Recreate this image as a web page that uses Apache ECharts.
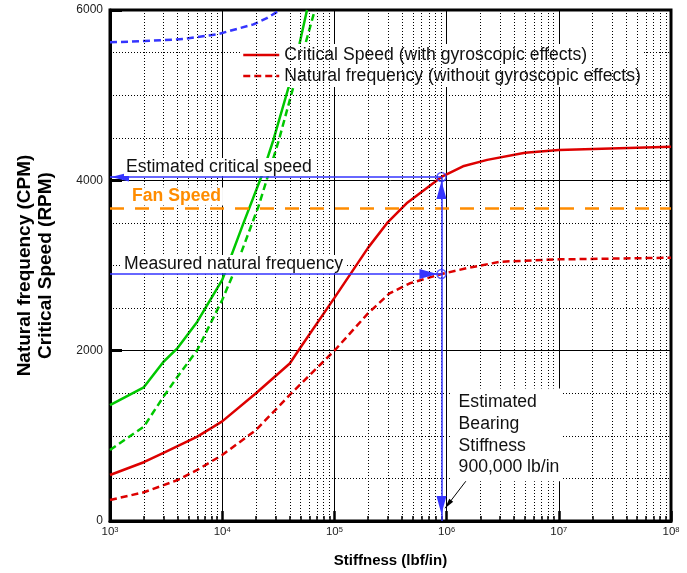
<!DOCTYPE html>
<html>
<head>
<meta charset="utf-8">
<title>Rotor critical speed map</title>
<script src="https://cdn.jsdelivr.net/npm/echarts@6.0.0/dist/echarts.min.js"></script>
<style>
  html, body { margin: 0; padding: 0; background: #ffffff; }
  #chart { width: 687px; height: 573px; }
</style>
</head>
<body>
<div id="chart"></div>
<script>
// Axis ranges
const stiffnessMin = 1e3;
const stiffnessMax = 1e8;
const speedMin = 0;
const speedMax = 6000;
const speedTickStep = 2000;

// First mode with gyroscopic effects: critical speed (RPM) vs bearing stiffness (lbf/in)
const critStiffness = [1e3, 2e3, 3e3, 6e3, 1e4, 2e4, 4e4, 5e4, 1e5, 2e5, 3e5, 4.4e5, 9e5, 1.4e6, 2.3e6, 5e6, 1e7, 1e8];
const critSpeed     = [540, 690, 800, 990, 1170, 1500, 1850, 2040, 2620, 3210, 3510, 3730, 4040, 4165, 4240, 4325, 4355, 4395];

// First mode without gyroscopic effects: natural frequency (CPM)
const natStiffness = [1e3, 2e3, 4e3, 6e3, 1e4, 2e4, 4e4, 1e5, 2e5, 3.1e5, 4.7e5, 9e5, 1.5e6, 3e6, 1e7, 1e8];
const natFreq      = [247, 337, 481, 600, 775, 1068, 1480, 2000, 2440, 2673, 2791, 2900, 2967, 3044, 3072, 3091];

// Second mode, with and without gyroscopic effects
const mode2CritStiffness = [1e3, 2e3, 3e3, 4e3, 6e3, 1e4, 1.55e4, 2.26e4, 2.85e4, 4e4, 4.9e4, 5.7e4];
const mode2CritSpeed     = [1360, 1570, 1870, 2030, 2340, 2830, 3500, 4060, 4470, 5140, 5610, 6000];
const mode2NatStiffness  = [1e3, 2e3, 3e3, 4e3, 6e3, 1e4, 1.26e4, 2.1e4, 2.57e4, 3.2e4, 4.4e4, 6.5e4, 6.7e4];
const mode2NatFreq       = [834, 1107, 1460, 1695, 2008, 2595, 2908, 3690, 4062, 4473, 5140, 5940, 6000];

// Third mode natural frequency
const mode3Stiffness = [1e3, 2e3, 4.5e3, 9e3, 1.9e4, 2.5e4, 3.3e4];
const mode3Freq      = [5620, 5635, 5659, 5714, 5831, 5905, 6000];

// Operating point annotations
const fanSpeed = 3670;
const estimatedCriticalSpeed = 4040;
const measuredNaturalFreq = 2900;
const bearingStiffness = 9e5;

// Series labels
const critName = 'Critical Speed (with gyroscopic effects)';
const natName = 'Natural frequency (without gyroscopic effects)';

// Minor log grid lines at 2..9 within each decade
const minorStiffness = [];
for (let d = 3; d < 8; d++) {
  for (let k = 2; k <= 9; k++) minorStiffness.push(k * Math.pow(10, d));
}

const FONT = '"Liberation Sans", Arial, Helvetica, sans-serif';
const RED = '#dd0000';
const GREEN = '#00c800';
const BLUE = '#3535ff';
const ORANGE = '#ff8c00';
const TEXT = '#111111';

const zip = (xs, ys) => xs.map((x, i) => [x, ys[i]]);

const chart = echarts.init(document.getElementById('chart'), null, { renderer: 'canvas' });

const annotationLabel = (text, dist, extra) => Object.assign({
  show: true,
  position: 'insideStartTop',
  formatter: text,
  distance: dist,
  color: TEXT,
  fontFamily: FONT,
  fontSize: 17.6,
  lineHeight: 18,
  backgroundColor: '#ffffff',
  padding: [0, 2, 0, 2]
}, extra || {});

const option = {
  animation: false,
  backgroundColor: '#ffffff',
  textStyle: { fontFamily: FONT },
  grid: {
    left: 110, right: 16, top: 10, bottom: 52,
    show: true, borderColor: '#000', borderWidth: 3, backgroundColor: 'transparent'
  },
  legend: {
    data: [critName, natName],
    orient: 'vertical',
    left: 240, top: 44,
    padding: [1, 3, 1, 2],
    itemGap: 1,
    itemWidth: 36,
    itemHeight: 14,
    backgroundColor: '#ffffff',
    selectedMode: false,
    itemStyle: { opacity: 0, borderWidth: 0 },
    lineStyle: { width: 2.5 },
    textStyle: { fontFamily: FONT, fontSize: 17.6, color: TEXT, lineHeight: 20 }
  },
  xAxis: {
    type: 'log',
    logBase: 10,
    min: stiffnessMin,
    max: stiffnessMax,
    splitNumber: 5,
    axisLine: { show: true, onZero: false, lineStyle: { color: '#000', width: 3 } },
    axisTick: { show: true, inside: true, length: 10, lineStyle: { color: '#000', width: 2.5 } },
    splitLine: { show: true, lineStyle: { color: '#000', width: 1 } },
    axisLabel: {
      margin: 5,
      formatter: function (v) {
        const e = Math.round(Math.log10(v));
        return '{b|10}{s|' + e + '}';
      },
      rich: {
        b: { fontFamily: FONT, fontSize: 11.5, color: '#222', lineHeight: 12 },
        s: { fontFamily: FONT, fontSize: 7.5, color: '#222', lineHeight: 8, verticalAlign: 'top' }
      }
    },
    name: 'Stiffness (lbf/in)',
    nameLocation: 'middle',
    nameGap: 32,
    nameTextStyle: { fontFamily: FONT, fontWeight: 'bold', fontSize: 15, color: '#000' }
  },
  yAxis: {
    type: 'value',
    min: speedMin,
    max: speedMax,
    interval: speedTickStep,
    axisLine: { show: true, lineStyle: { color: '#000', width: 3 } },
    axisTick: { show: true, inside: true, length: 12, lineStyle: { color: '#000', width: 3 } },
    splitLine: { show: true, lineStyle: { color: '#000', width: 1 } },
    minorTick: { show: false, splitNumber: 4 },
    minorSplitLine: { show: true, lineStyle: { color: '#000', width: 1, type: [1, 2] } },
    axisLabel: {
      fontFamily: FONT, fontSize: 12, color: '#222', margin: 7,
      formatter: function (v) { return String(v); }
    },
    name: 'Natural frequency (CPM)\nCritical Speed (RPM)',
    nameLocation: 'middle',
    nameGap: 54,
    nameTextStyle: { fontFamily: FONT, fontWeight: 'bold', fontSize: 19, lineHeight: 20.5, color: '#000' }
  },
  series: [
    {
      // minor logarithmic grid and its short ticks on the stiffness axis
      type: 'line', name: 'log grid', data: [], z: 1, silent: true,
      markLine: {
        silent: true, animation: false,
        symbol: ['none', 'none'],
        label: { show: false },
        lineStyle: { color: '#000', width: 1, type: [1, 2] },
        data: minorStiffness.map(v => ({ xAxis: v })).concat(
          minorStiffness.map(v => [
            { coord: [v, speedMin], lineStyle: { color: '#000', width: 1.5, type: 'solid' } },
            { coord: [v, 60] }
          ])
        )
      }
    },
    {
      // operating point guides and notes
      type: 'line', name: 'notes', data: [], z: 2, silent: true,
      markLine: {
        silent: true, animation: false,
        symbol: ['none', 'none'],
        label: { show: false },
        lineStyle: { color: BLUE, width: 1.5, type: 'solid' },
        data: [
          [
            { coord: [stiffnessMin, fanSpeed],
              lineStyle: { color: ORANGE, width: 2.5, type: [14, 11] },
              label: annotationLabel('Fan Speed', [20, 3], { color: ORANGE, fontWeight: 'bold' }) },
            { coord: [stiffnessMax, fanSpeed] }
          ],
          [
            { coord: [stiffnessMin, estimatedCriticalSpeed], symbol: 'triangle', symbolSize: [9, 18], symbolOffset: [0, 10],
              label: annotationLabel('Estimated critical speed', [14, 1]) },
            { coord: [bearingStiffness, estimatedCriticalSpeed] }
          ],
          [
            { coord: [stiffnessMin, measuredNaturalFreq],
              label: annotationLabel('Measured natural frequency', [12, 1]) },
            { coord: [bearingStiffness, measuredNaturalFreq], symbol: 'triangle', symbolSize: [10, 18], symbolOffset: [0, 13] }
          ],
          [
            { coord: [bearingStiffness, estimatedCriticalSpeed], symbol: 'triangle', symbolSize: [10, 18], symbolOffset: [0, 13] },
            { coord: [bearingStiffness, speedMin], symbol: 'triangle', symbolSize: [10, 18], symbolOffset: [0, 16] }
          ],
          [
            { coord: [1.53e6, 490], lineStyle: { color: '#000', width: 1 } },
            { coord: [9.7e5, 150], symbol: 'triangle', symbolSize: [5, 10], symbolOffset: [0, 5] }
          ]
        ]
      },
      markPoint: {
        silent: true, animation: false,
        symbol: 'rect', symbolSize: 1,
        itemStyle: { color: 'rgba(0,0,0,0)' },
        data: [{
          coord: [1.12e6, 1550],
          label: {
            show: true,
            position: [0, 0],
            align: 'left',
            verticalAlign: 'top',
            formatter: 'Estimated\nBearing\nStiffness\n' + bearingStiffness.toLocaleString('en-US') + ' lb/in',
            color: TEXT,
            fontFamily: FONT,
            fontSize: 17.6,
            lineHeight: 21.7,
            backgroundColor: '#ffffff',
            padding: [3, 3, 3, 7]
          }
        }]
      }
    },
    {
      name: critName, type: 'line', z: 3, symbol: 'none', showSymbol: false, silent: true,
      data: zip(critStiffness, critSpeed),
      lineStyle: { color: RED, width: 2.5, type: 'solid' }, itemStyle: { color: RED }
    },
    {
      name: natName, type: 'line', z: 3, symbol: 'none', showSymbol: false, silent: true,
      data: zip(natStiffness, natFreq),
      lineStyle: { color: RED, width: 2.5, type: [7, 4] }, itemStyle: { color: RED }
    },
    {
      name: 'Second mode critical speed', type: 'line', z: 3, symbol: 'none', showSymbol: false, silent: true,
      data: zip(mode2CritStiffness, mode2CritSpeed),
      lineStyle: { color: GREEN, width: 2.5, type: 'solid' }, itemStyle: { color: GREEN }
    },
    {
      name: 'Second mode natural frequency', type: 'line', z: 3, symbol: 'none', showSymbol: false, silent: true,
      data: zip(mode2NatStiffness, mode2NatFreq),
      lineStyle: { color: GREEN, width: 2.5, type: [7, 4] }, itemStyle: { color: GREEN }
    },
    {
      name: 'Third mode natural frequency', type: 'line', z: 3, symbol: 'none', showSymbol: false, silent: true,
      data: zip(mode3Stiffness, mode3Freq),
      lineStyle: { color: BLUE, width: 2.5, type: [7, 4] }, itemStyle: { color: BLUE }
    },
    {
      name: 'Operating points', type: 'scatter', z: 4, silent: true,
      symbol: 'circle', symbolSize: 9,
      itemStyle: { color: 'rgba(0,0,0,0)', borderColor: BLUE, borderWidth: 1.5 },
      data: [[bearingStiffness, estimatedCriticalSpeed], [bearingStiffness, measuredNaturalFreq]]
    }
  ]
};

chart.setOption(option);
</script>
</body>
</html>
